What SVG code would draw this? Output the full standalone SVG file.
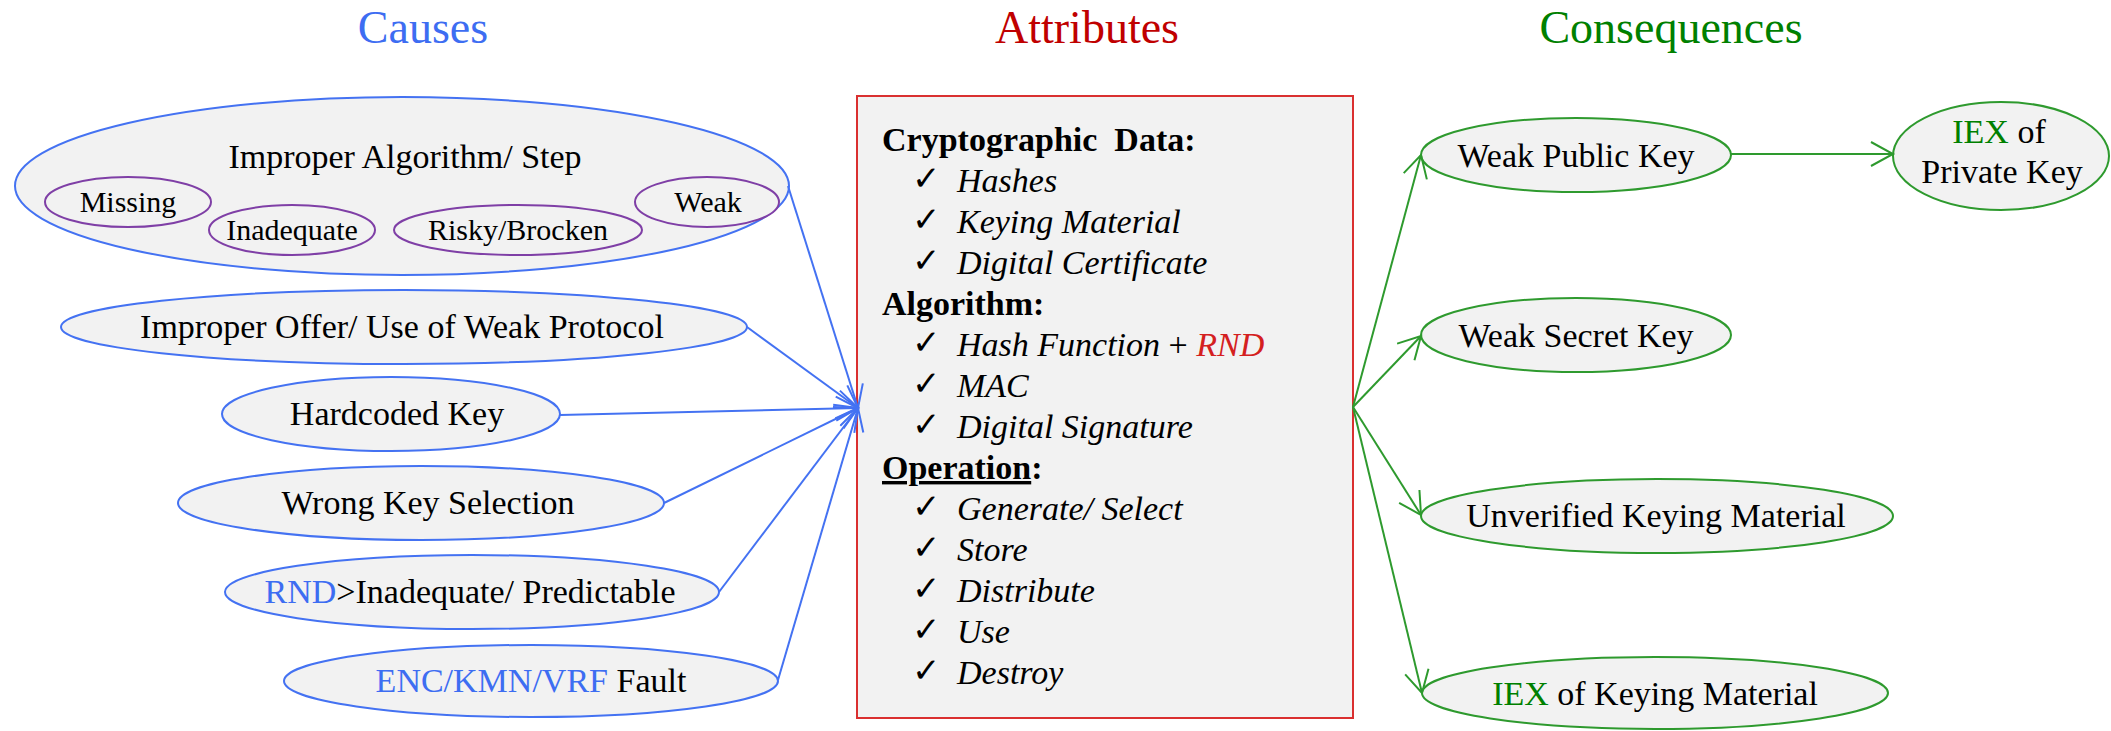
<svg xmlns="http://www.w3.org/2000/svg" width="2111" height="731" viewBox="0 0 2111 731">
<style>
text{font-family:"Liberation Serif","Times New Roman",serif;fill:#000}
.title{font-size:46px;text-anchor:middle}
.lbl{font-size:34px;text-anchor:middle}
.sm{font-size:30px;text-anchor:middle}
.cause{fill:#F2F2F2;stroke:#4472F2;stroke-width:2}
.sub{fill:#F2F2F2;stroke:#7F3FA6;stroke-width:2}
.cons{fill:#F2F2F2;stroke:#2E9A2E;stroke-width:2}
.blue{fill:#3D6DF2}
.green{fill:#008000}
.red{fill:#D42020}
.bx{fill:#F2F2F2;stroke:#DA3030;stroke-width:2}
.bt{font-size:34px}
.hd{font-weight:bold}
.it{font-style:italic}
.ck{font-family:"DejaVu Sans",sans-serif;font-size:34px;font-weight:bold}
.cb{stroke:#4472F2;stroke-width:2;fill:none;marker-end:url(#ab)}
.cg{stroke:#2E9A2E;stroke-width:2;fill:none;marker-end:url(#ag)}
</style>
<defs>
<marker id="ab" markerUnits="userSpaceOnUse" markerWidth="26" markerHeight="28" refX="23" refY="13" orient="auto" viewBox="0 0 26 28">
<path d="M1,1 L23,13 L1,25" fill="none" stroke="#4472F2" stroke-width="2"/>
</marker>
<marker id="ag" markerUnits="userSpaceOnUse" markerWidth="26" markerHeight="28" refX="23" refY="13" orient="auto" viewBox="0 0 26 28">
<path d="M1,1 L23,13 L1,25" fill="none" stroke="#2E9A2E" stroke-width="2"/>
</marker>
</defs>

<text class="title" x="423" y="43" style="fill:#3D6DF2">Causes</text>
<text class="title" x="1087" y="43" style="fill:#C00000">Attributes</text>
<text class="title" x="1671" y="43" style="fill:#008000">Consequences</text>

<g id="improper-algorithm">
<ellipse class="cause" cx="402" cy="186" rx="387" ry="89"/>
<text class="lbl" x="405" y="168">Improper Algorithm/ Step</text>
</g>
<g id="missing">
<ellipse class="sub" cx="128" cy="202" rx="83" ry="25"/>
<text class="sm" x="128" y="212">Missing</text>
</g>
<g id="inadequate">
<ellipse class="sub" cx="292" cy="230" rx="83" ry="25"/>
<text class="sm" x="292" y="240">Inadequate</text>
</g>
<g id="risky-brocken">
<ellipse class="sub" cx="518" cy="230" rx="124" ry="25"/>
<text class="sm" x="518" y="240">Risky/Brocken</text>
</g>
<g id="weak">
<ellipse class="sub" cx="707" cy="202" rx="72" ry="25"/>
<text class="sm" x="708" y="212">Weak</text>
</g>

<g id="improper-offer">
<ellipse class="cause" cx="404" cy="327" rx="343" ry="37"/>
<text class="lbl" x="402" y="338">Improper Offer/ Use of Weak Protocol</text>
</g>
<g id="hardcoded-key">
<ellipse class="cause" cx="391" cy="414" rx="169" ry="37"/>
<text class="lbl" x="397" y="425">Hardcoded Key</text>
</g>
<g id="wrong-key">
<ellipse class="cause" cx="421" cy="503" rx="243" ry="37"/>
<text class="lbl" x="428" y="514">Wrong Key Selection</text>
</g>
<g id="rnd">
<ellipse class="cause" cx="472" cy="592" rx="247" ry="37"/>
<text class="lbl" x="470" y="603"><tspan class="blue">RND</tspan>&gt;Inadequate/ Predictable</text>
</g>
<g id="enc-fault">
<ellipse class="cause" cx="531" cy="681" rx="247" ry="36"/>
<text class="lbl" x="531" y="692"><tspan class="blue">ENC/KMN/VRF</tspan> Fault</text>
</g>

<g id="attributes">
<rect class="bx" x="857" y="96" width="496" height="622"/>
<text class="bt hd" x="882" y="151">Cryptographic&#160; Data:</text>
<text class="ck" x="912" y="190">✓</text><text class="bt it" x="957" y="192">Hashes</text>
<text class="ck" x="912" y="231">✓</text><text class="bt it" x="957" y="233">Keying Material</text>
<text class="ck" x="912" y="272">✓</text><text class="bt it" x="957" y="274">Digital Certificate</text>
<text class="bt hd" x="882" y="315">Algorithm:</text>
<text class="ck" x="912" y="354">✓</text><text class="bt" x="957" y="356"><tspan class="it">Hash Function</tspan> + <tspan class="it red">RND</tspan></text>
<text class="ck" x="912" y="395">✓</text><text class="bt it" x="957" y="397">MAC</text>
<text class="ck" x="912" y="436">✓</text><text class="bt it" x="957" y="438">Digital Signature</text>
<text class="bt hd" x="882" y="479"><tspan text-decoration="underline">Operation</tspan>:</text>
<text class="ck" x="912" y="518">✓</text><text class="bt it" x="957" y="520">Generate/ Select</text>
<text class="ck" x="912" y="559">✓</text><text class="bt it" x="957" y="561">Store</text>
<text class="ck" x="912" y="600">✓</text><text class="bt it" x="957" y="602">Distribute</text>
<text class="ck" x="912" y="641">✓</text><text class="bt it" x="957" y="643">Use</text>
<text class="ck" x="912" y="682">✓</text><text class="bt it" x="957" y="684">Destroy</text>
</g>

<g id="weak-public-key">
<ellipse class="cons" cx="1576" cy="155" rx="155" ry="37"/>
<text class="lbl" x="1576" y="167">Weak Public Key</text>
</g>
<g id="iex-private-key">
<ellipse class="cons" cx="2001" cy="156" rx="108" ry="54"/>
<text class="lbl" x="1999" y="143"><tspan class="green">IEX</tspan> of</text>
<text class="lbl" x="2002" y="183">Private Key</text>
</g>
<g id="weak-secret-key">
<ellipse class="cons" cx="1576" cy="335" rx="155" ry="37"/>
<text class="lbl" x="1576" y="347">Weak Secret Key</text>
</g>
<g id="unverified">
<ellipse class="cons" cx="1657" cy="516" rx="236" ry="37"/>
<text class="lbl" x="1656" y="527">Unverified Keying Material</text>
</g>
<g id="iex-keying">
<ellipse class="cons" cx="1655" cy="693" rx="233" ry="36"/>
<text class="lbl" x="1655" y="705"><tspan class="green">IEX</tspan> of Keying Material</text>
</g>

<g id="connectors">
<line class="cb" x1="788" y1="186" x2="858" y2="408"/>
<line class="cb" x1="747" y1="327" x2="858" y2="408"/>
<line class="cb" x1="560" y1="415" x2="858" y2="408"/>
<line class="cb" x1="664" y1="503" x2="858" y2="408"/>
<line class="cb" x1="719" y1="592" x2="858" y2="408"/>
<line class="cb" x1="778" y1="680" x2="858" y2="408"/>
<line class="cg" x1="1353" y1="407" x2="1421" y2="155"/>
<line class="cg" x1="1353" y1="407" x2="1421" y2="336"/>
<line class="cg" x1="1353" y1="407" x2="1421" y2="515"/>
<line class="cg" x1="1353" y1="407" x2="1422" y2="693"/>
<line class="cg" x1="1731" y1="154" x2="1893" y2="154"/>
</g>
</svg>
